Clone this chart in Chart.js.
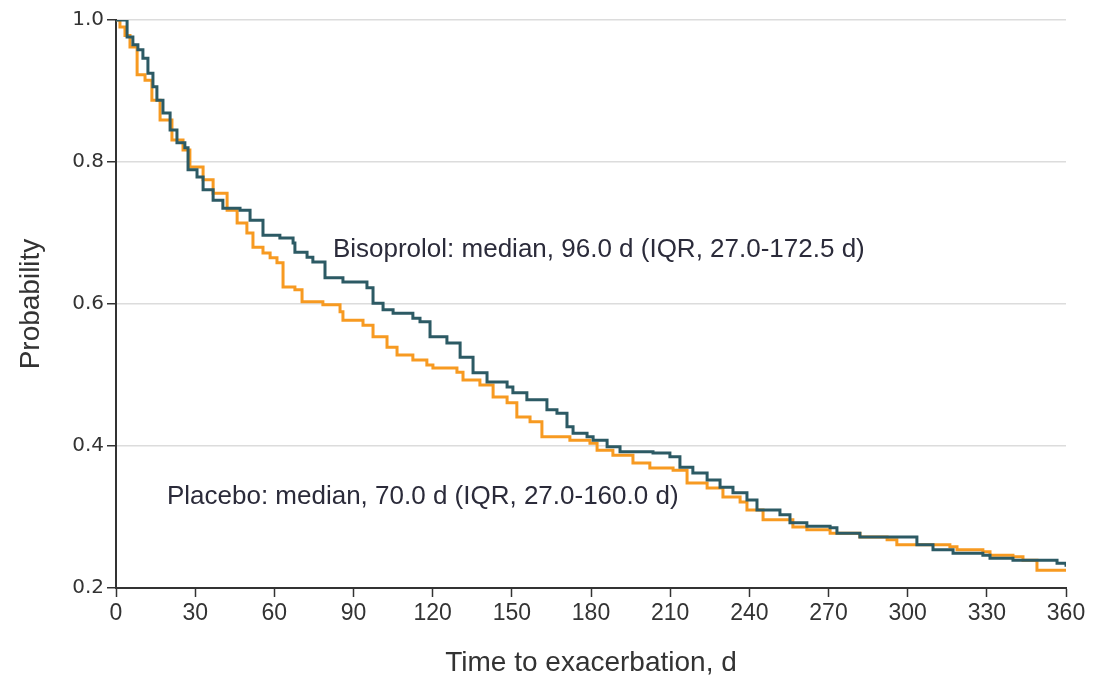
<!DOCTYPE html>
<html>
<head>
<meta charset="utf-8">
<script src="https://cdn.jsdelivr.net/npm/chart.js@4"></script>
<style>
    html, body { margin: 0; padding: 0; background: #fff; }
    #wrap { width: 1094px; height: 680px; position: relative; }
</style>
</head>
<body>
<div id="wrap"><canvas id="km"></canvas></div>
<script>
// Kaplan-Meier steps: [day, survival probability after the drop]
const bisoprololDays = [0, 4.2, 6.4, 8.3, 10.2, 12.1, 14.0, 15.5, 17.8, 20.5, 23.1, 26.1, 27.3, 30.7, 33.0, 36.8, 40.5, 47.0, 50.8, 55.7, 62.1, 67.1, 67.8, 72.4, 74.6, 79.2, 86.0, 95.1, 97.4, 101.2, 105.0, 112.5, 115.2, 119.0, 125.4, 130.4, 135.3, 140.6, 148.2, 150.4, 155.7, 163.3, 167.1, 170.9, 173.2, 178.5, 180.8, 186.1, 191.0, 203.5, 209.9, 213.7, 218.6, 224.0, 228.9, 233.8, 239.1, 242.9, 251.6, 255.4, 261.8, 270.6, 273.2, 281.9, 303.5, 309.6, 317.2, 328.5, 331.2, 339.9, 356.6, 360];
const bisoprololProb = [1.0, 0.976, 0.965, 0.958, 0.946, 0.925, 0.906, 0.887, 0.869, 0.845, 0.827, 0.820, 0.789, 0.779, 0.761, 0.746, 0.735, 0.732, 0.718, 0.697, 0.693, 0.686, 0.673, 0.666, 0.659, 0.637, 0.631, 0.623, 0.601, 0.592, 0.587, 0.580, 0.575, 0.554, 0.545, 0.525, 0.503, 0.490, 0.483, 0.475, 0.465, 0.451, 0.446, 0.427, 0.418, 0.413, 0.408, 0.399, 0.392, 0.390, 0.385, 0.370, 0.362, 0.352, 0.342, 0.334, 0.324, 0.310, 0.303, 0.292, 0.287, 0.285, 0.277, 0.272, 0.261, 0.254, 0.249, 0.246, 0.242, 0.239, 0.235, 0.230];

const placeboDays = [0, 1.5, 3.4, 5.3, 8.0, 11.0, 13.6, 16.7, 21.2, 25.4, 28.0, 33.0, 36.8, 42.1, 45.9, 49.6, 51.9, 55.7, 58.4, 61.0, 63.3, 67.8, 70.5, 78.4, 84.9, 86.0, 93.6, 97.4, 102.7, 106.5, 112.5, 117.8, 120.1, 129.2, 131.5, 137.9, 142.9, 148.2, 151.9, 156.9, 161.4, 172.0, 179.6, 182.3, 188.3, 195.9, 202.3, 211.1, 216.4, 224.0, 230.0, 236.5, 239.1, 245.2, 256.5, 261.8, 270.6, 281.9, 292.2, 295.9, 316.0, 318.7, 328.5, 331.2, 339.9, 343.7, 349.0, 360];
const placeboProb = [1.0, 0.99, 0.978, 0.962, 0.923, 0.915, 0.887, 0.859, 0.831, 0.817, 0.793, 0.775, 0.756, 0.732, 0.714, 0.700, 0.680, 0.672, 0.665, 0.658, 0.624, 0.620, 0.603, 0.599, 0.589, 0.577, 0.570, 0.554, 0.539, 0.528, 0.521, 0.514, 0.510, 0.504, 0.493, 0.486, 0.469, 0.461, 0.441, 0.434, 0.413, 0.408, 0.404, 0.394, 0.387, 0.376, 0.369, 0.366, 0.348, 0.341, 0.328, 0.321, 0.310, 0.296, 0.286, 0.282, 0.277, 0.272, 0.268, 0.261, 0.258, 0.254, 0.251, 0.246, 0.244, 0.239, 0.225, 0.225];

const xTicks = [0, 30, 60, 90, 120, 150, 180, 210, 240, 270, 300, 330, 360];
const yTicks = [0.2, 0.4, 0.6, 0.8, 1.0];

const labels = [
    { text: 'Bisoprolol: median, 96.0 d (IQR, 27.0-172.5 d)', x: 82.2, y: 0.676 },
    { text: 'Placebo: median, 70.0 d (IQR, 27.0-160.0 d)', x: 19.3, y: 0.328 }
];

const FONT = '"Liberation Sans", Arial, sans-serif';
const INK = '#333333';

function toPoints(days, probs) {
    return days.map((d, i) => ({ x: d, y: probs[i] }));
}

const medianLabels = {
    id: 'medianLabels',
    afterDatasetsDraw(chart) {
        const { ctx, scales } = chart;
        ctx.save();
        ctx.font = '26px ' + FONT;
        ctx.fillStyle = '#2b2b3a';
        ctx.textBaseline = 'middle';
        ctx.textAlign = 'left';
        labels.forEach(l => {
            ctx.fillText(l.text, scales.x.getPixelForValue(l.x), scales.y.getPixelForValue(l.y));
        });
        ctx.restore();
    }
};

new Chart(document.getElementById('km'), {
    type: 'line',
    data: {
        datasets: [{
            label: 'Bisoprolol',
            data: toPoints(bisoprololDays, bisoprololProb),
            borderColor: '#2c5a64',
            borderWidth: 3,
            stepped: true,
            pointRadius: 0,
            fill: false
        }, {
            label: 'Placebo',
            data: toPoints(placeboDays, placeboProb),
            borderColor: '#f79a21',
            borderWidth: 3,
            stepped: true,
            pointRadius: 0,
            fill: false
        }]
    },
    options: {
        responsive: true,
        maintainAspectRatio: false,
        animation: false,
        layout: { padding: { top: 20, right: 28, left: 0, bottom: 0 } },
        scales: {
            x: {
                type: 'linear',
                min: 0,
                max: 360,
                afterBuildTicks: s => { s.ticks = xTicks.map(v => ({ value: v })); },
                afterFit: s => { s.height = 92; },
                border: { color: INK, width: 2 },
                grid: { drawOnChartArea: false, tickLength: 9, tickColor: INK, tickWidth: 1.5 },
                ticks: { color: INK, font: { family: FONT, size: 23 }, padding: 3, maxRotation: 0 },
                title: {
                    display: true,
                    text: 'Time to exacerbation, d',
                    color: INK,
                    font: { family: FONT, size: 28 },
                    padding: { top: 0, bottom: 0 }
                }
            },
            y: {
                min: 0.2,
                max: 1.0,
                afterBuildTicks: s => { s.ticks = yTicks.map(v => ({ value: v })); },
                afterFit: s => { s.width = 116; },
                border: { color: INK, width: 2 },
                grid: { color: '#dcdcdc', lineWidth: 1.5, tickLength: 9, tickColor: INK },
                ticks: {
                    color: INK,
                    font: { family: '"DejaVu Sans", sans-serif', size: 20 },
                    padding: 3,
                    callback: v => v.toFixed(1)
                },
                title: {
                    display: true,
                    text: 'Probability',
                    color: INK,
                    font: { family: FONT, size: 28 },
                    padding: { top: 14, bottom: 0 }
                }
            }
        },
        plugins: {
            legend: { display: false },
            tooltip: { enabled: false }
        }
    },
    plugins: [medianLabels]
});
</script>
</body>
</html>
